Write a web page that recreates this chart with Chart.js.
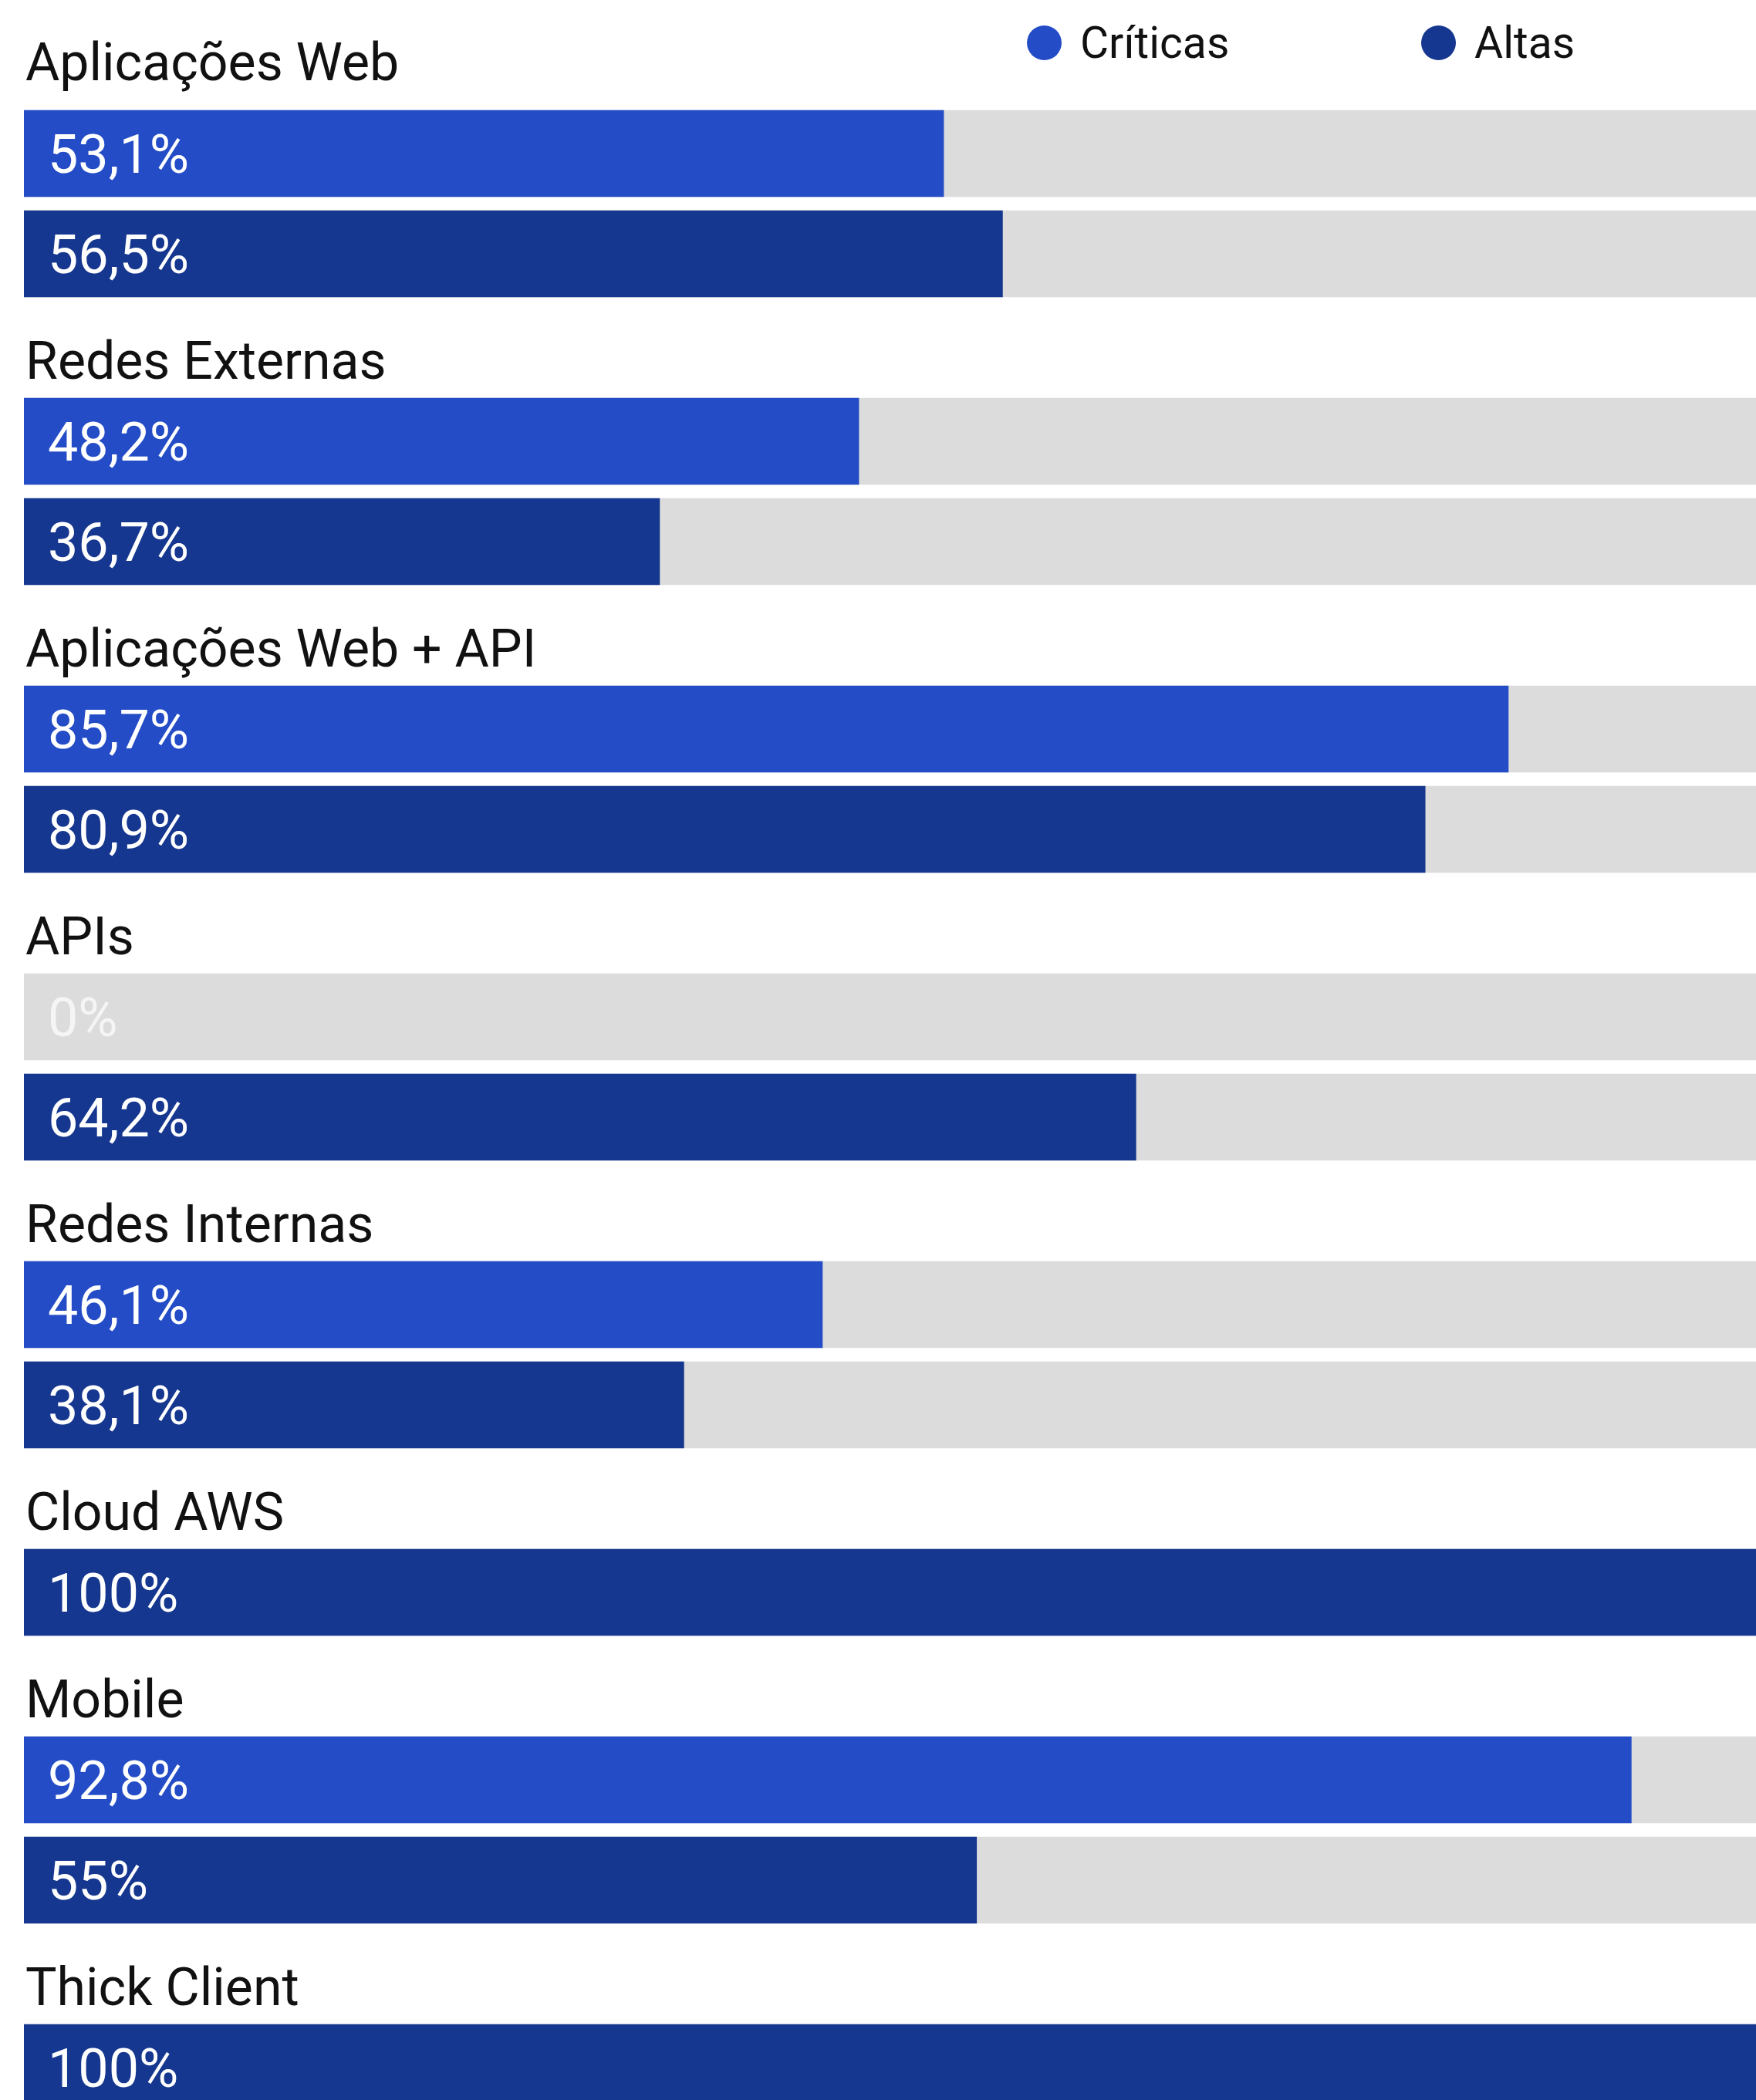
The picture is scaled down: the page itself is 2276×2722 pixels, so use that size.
<!DOCTYPE html>
<html lang="pt-BR">
<head>
<meta charset="utf-8">
<title>Vulnerabilidades por tipo de ativo</title>
<script src="https://cdn.jsdelivr.net/npm/chart.js@4.4.1/dist/chart.umd.min.js"></script>
<style>
    html, body { margin: 0; padding: 0; background: #fff; overflow: hidden; }
    body {
        width: 2276px;
        height: 2722px;
        position: relative;
        font-family: Roboto, 'Liberation Sans', sans-serif;
        color: #111;
    }

    /* --- LEGEND --- */
    .legend-item {
        position: absolute;
        top: 25px;
        height: 60px;
        display: flex;
        align-items: center;
        font-size: 57px;
        white-space: nowrap;
    }
    .legend-item .dot {
        width: 45px;
        height: 45px;
        border-radius: 50%;
        margin-right: 24px;
    }

    /* --- GROUPS --- */
    #groups { position: absolute; top: 43px; left: 31px; width: 2245px; }
    .group { margin-top: 36px; }
    .group:first-child { margin-top: 0; }
    .group-label {
        height: 77px;
        line-height: 77px;
        font-size: 68px;
        padding-left: 2px;
        white-space: nowrap;
    }
    .group:first-child .group-label { margin-bottom: 14px; }
    .group canvas { display: block; }
</style>
</head>
<body>
<div id="legend"></div>
<div id="groups"></div>

<script>
// --- DATA ---
const categories = ['Aplicações Web', 'Redes Externas', 'Aplicações Web + API', 'APIs', 'Redes Internas', 'Cloud AWS', 'Mobile', 'Thick Client'];
const criticas = [53.1, 48.2, 85.7, 0, 46.1, null, 92.8, null];
const altas = [56.5, 36.7, 80.9, 64.2, 38.1, 100, 55, 100];
const seriesNames = ['Críticas', 'Altas'];
const seriesColors = ['#244cc7', '#16378f'];
const maxValue = 100;

const trackColor = '#dcdcdc';
const ROW_H = 130;
const BAR_H = 112;
const legendLeft = [1331, 1842];

// --- LEGEND ---
const legendEl = document.getElementById('legend');
seriesNames.forEach((name, i) => {
    const item = document.createElement('div');
    item.className = 'legend-item';
    item.style.left = legendLeft[i] + 'px';
    item.innerHTML = `<span class="dot" style="background:${seriesColors[i]}"></span><span>${name}</span>`;
    legendEl.appendChild(item);
});

// value text drawn inside each bar, pt-BR decimal comma
const fmt = v => v.toLocaleString('pt-BR', { maximumFractionDigits: 1 }) + '%';

const valueLabels = {
    id: 'valueLabels',
    afterDatasetsDraw(chart) {
        const ctx = chart.ctx;
        const meta = chart.getDatasetMeta(0);
        const values = chart.data.datasets[0].data;
        ctx.save();
        ctx.font = '70px Roboto, "Liberation Sans", sans-serif';
        ctx.textAlign = 'left';
        ctx.textBaseline = 'alphabetic';
        meta.data.forEach((bar, i) => {
            ctx.fillStyle = values[i] === 0 ? 'rgba(255,255,255,0.72)' : '#ffffff';
            ctx.fillText(fmt(values[i]), chart.chartArea.left + 31, bar.y + 25);
        });
        ctx.restore();
    }
};

// --- CHARTS (one small horizontal bar chart per category) ---
const groupsEl = document.getElementById('groups');
categories.forEach((cat, i) => {
    const rows = [];
    if (criticas[i] !== null) rows.push({ name: seriesNames[0], value: criticas[i], color: seriesColors[0] });
    rows.push({ name: seriesNames[1], value: altas[i], color: seriesColors[1] });

    const group = document.createElement('div');
    group.className = 'group';
    const label = document.createElement('div');
    label.className = 'group-label';
    label.textContent = cat;
    const canvas = document.createElement('canvas');
    canvas.width = 2245;
    canvas.height = rows.length * ROW_H;
    group.appendChild(label);
    group.appendChild(canvas);
    groupsEl.appendChild(group);

    new Chart(canvas, {
        type: 'bar',
        data: {
            labels: rows.map(r => r.name),
            datasets: [
                {
                    label: cat,
                    data: rows.map(r => r.value),
                    // a zero bar would still leave a hairline, so hide it
                    backgroundColor: rows.map(r => r.value > 0 ? r.color : 'transparent'),
                    barThickness: BAR_H,
                    grouped: false,
                    order: 0
                },
                {
                    label: 'total',
                    data: rows.map(() => maxValue),
                    backgroundColor: trackColor,
                    barThickness: BAR_H,
                    grouped: false,
                    order: 1
                }
            ]
        },
        options: {
            indexAxis: 'y',
            responsive: false,
            animation: false,
            events: [],
            layout: { padding: 0 },
            plugins: { legend: { display: false }, tooltip: { enabled: false } },
            scales: {
                x: { display: false, min: 0, max: maxValue },
                y: { display: false }
            }
        },
        plugins: [valueLabels]
    });
});
</script>
</body>
</html>
